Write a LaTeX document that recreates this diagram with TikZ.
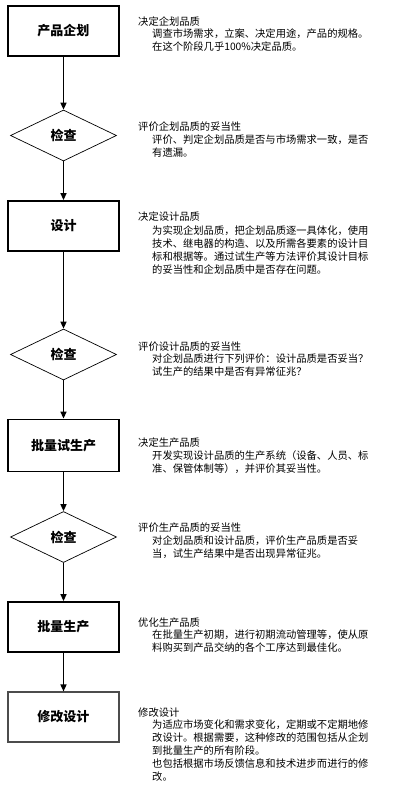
\documentclass[tikz,border=0pt]{standalone}
\usepackage{fontspec}
\setmainfont{Noto Sans CJK SC}
\usetikzlibrary{shapes.geometric,arrows.meta}
\begin{document}
\begin{tikzpicture}[x=1pt,y=-1pt,
  stepbox/.style={draw=black,line width=1.8pt,rectangle,minimum width=111pt,minimum height=50pt,inner sep=0pt,font=\fontsize{13}{15}\selectfont\bfseries},
  lastbox/.style={stepbox,draw=black!70,line width=1.1pt},
  checkbox/.style={draw=black,line width=0.7pt,diamond,minimum width=106pt,minimum height=51pt,inner sep=0pt,font=\fontsize{13}{15}\selectfont\bfseries},
  flow/.style={line width=1.4pt,-{Triangle[length=7pt,width=6pt]}},
  ttl/.style={anchor=west,inner sep=0pt,font=\fontsize{10.3}{13}\selectfont},
  body/.style={anchor=north west,inner sep=0pt,align=left,font=\fontsize{10.3}{13}\selectfont}
]
\useasboundingbox (0,0) rectangle (398,807);
\node[stepbox] (b1) at (63.5,31) {产品企划};
\node[checkbox] (d1) at (63.5,135.5) {检查};
\node[stepbox] (b2) at (63.5,226) {设计};
\node[checkbox] (d2) at (63.5,354.5) {检查};
\node[stepbox,minimum height=52pt] (b3) at (63.5,445.5) {批量试生产};
\node[checkbox] (d3) at (63.5,537) {检查};
\node[stepbox] (b4) at (63.5,627) {批量生产};
\node[lastbox] (b5) at (63.5,717) {修改设计};
\draw[flow] (b1) -- (d1);
\draw[flow] (d1) -- (b2);
\draw[flow] (b2) -- (d2);
\draw[flow] (d2) -- (b3);
\draw[flow] (b3) -- (d3);
\draw[flow] (d3) -- (b4);
\draw[flow] (b4) -- (b5);

\node[ttl] (t1) at (138,22) {决定企划品质};
\node[body] (x1) at (152,29) {调查市场需求，立案、决定用途，产品的规格。\\在这个阶段几乎100\%决定品质。};

\node[ttl] (t2) at (138,127) {评价企划品质的妥当性};
\node[body] (x2) at (152,135) {评价、判定企划品质是否与市场需求一致，是否\\有遗漏。};

\node[ttl] (t3) at (138,217) {决定设计品质};
\node[body] (x3) at (152,226) {为实现企划品质，把企划品质逐一具体化，使用\\技术、继电器的构造、以及所需各要素的设计目\\标和根据等。通过试生产等方法评价其设计目标\\的妥当性和企划品质中是否存在问题。};

\node[ttl] (t4) at (138,347) {评价设计品质的妥当性};
\node[body] (x4) at (152,354) {对企划品质进行下列评价：设计品质是否妥当？\\试生产的结果中是否有异常征兆？};

\node[ttl] (t5) at (138,443) {决定生产品质};
\node[body] (x5) at (152,450) {开发实现设计品质的生产系统（设备、人员、标\\准、保管体制等），并评价其妥当性。};

\node[ttl] (t6) at (138,528) {评价生产品质的妥当性};
\node[body] (x6) at (152,536) {对企划品质和设计品质，评价生产品质是否妥\\当，试生产结果中是否出现异常征兆。};

\node[ttl] (t7) at (138,623) {优化生产品质};
\node[body] (x7) at (152,630) {在批量生产初期，进行初期流动管理等，使从原\\料购买到产品交纳的各个工序达到最佳化。};

\node[ttl] (t8) at (138,713) {修改设计};
\node[body] (x8) at (152,720) {为适应市场变化和需求变化，定期或不定期地修\\改设计。根据需要，这种修改的范围包括从企划\\到批量生产的所有阶段。\\也包括根据市场反馈信息和技术进步而进行的修\\改。};
\end{tikzpicture}
\end{document}
